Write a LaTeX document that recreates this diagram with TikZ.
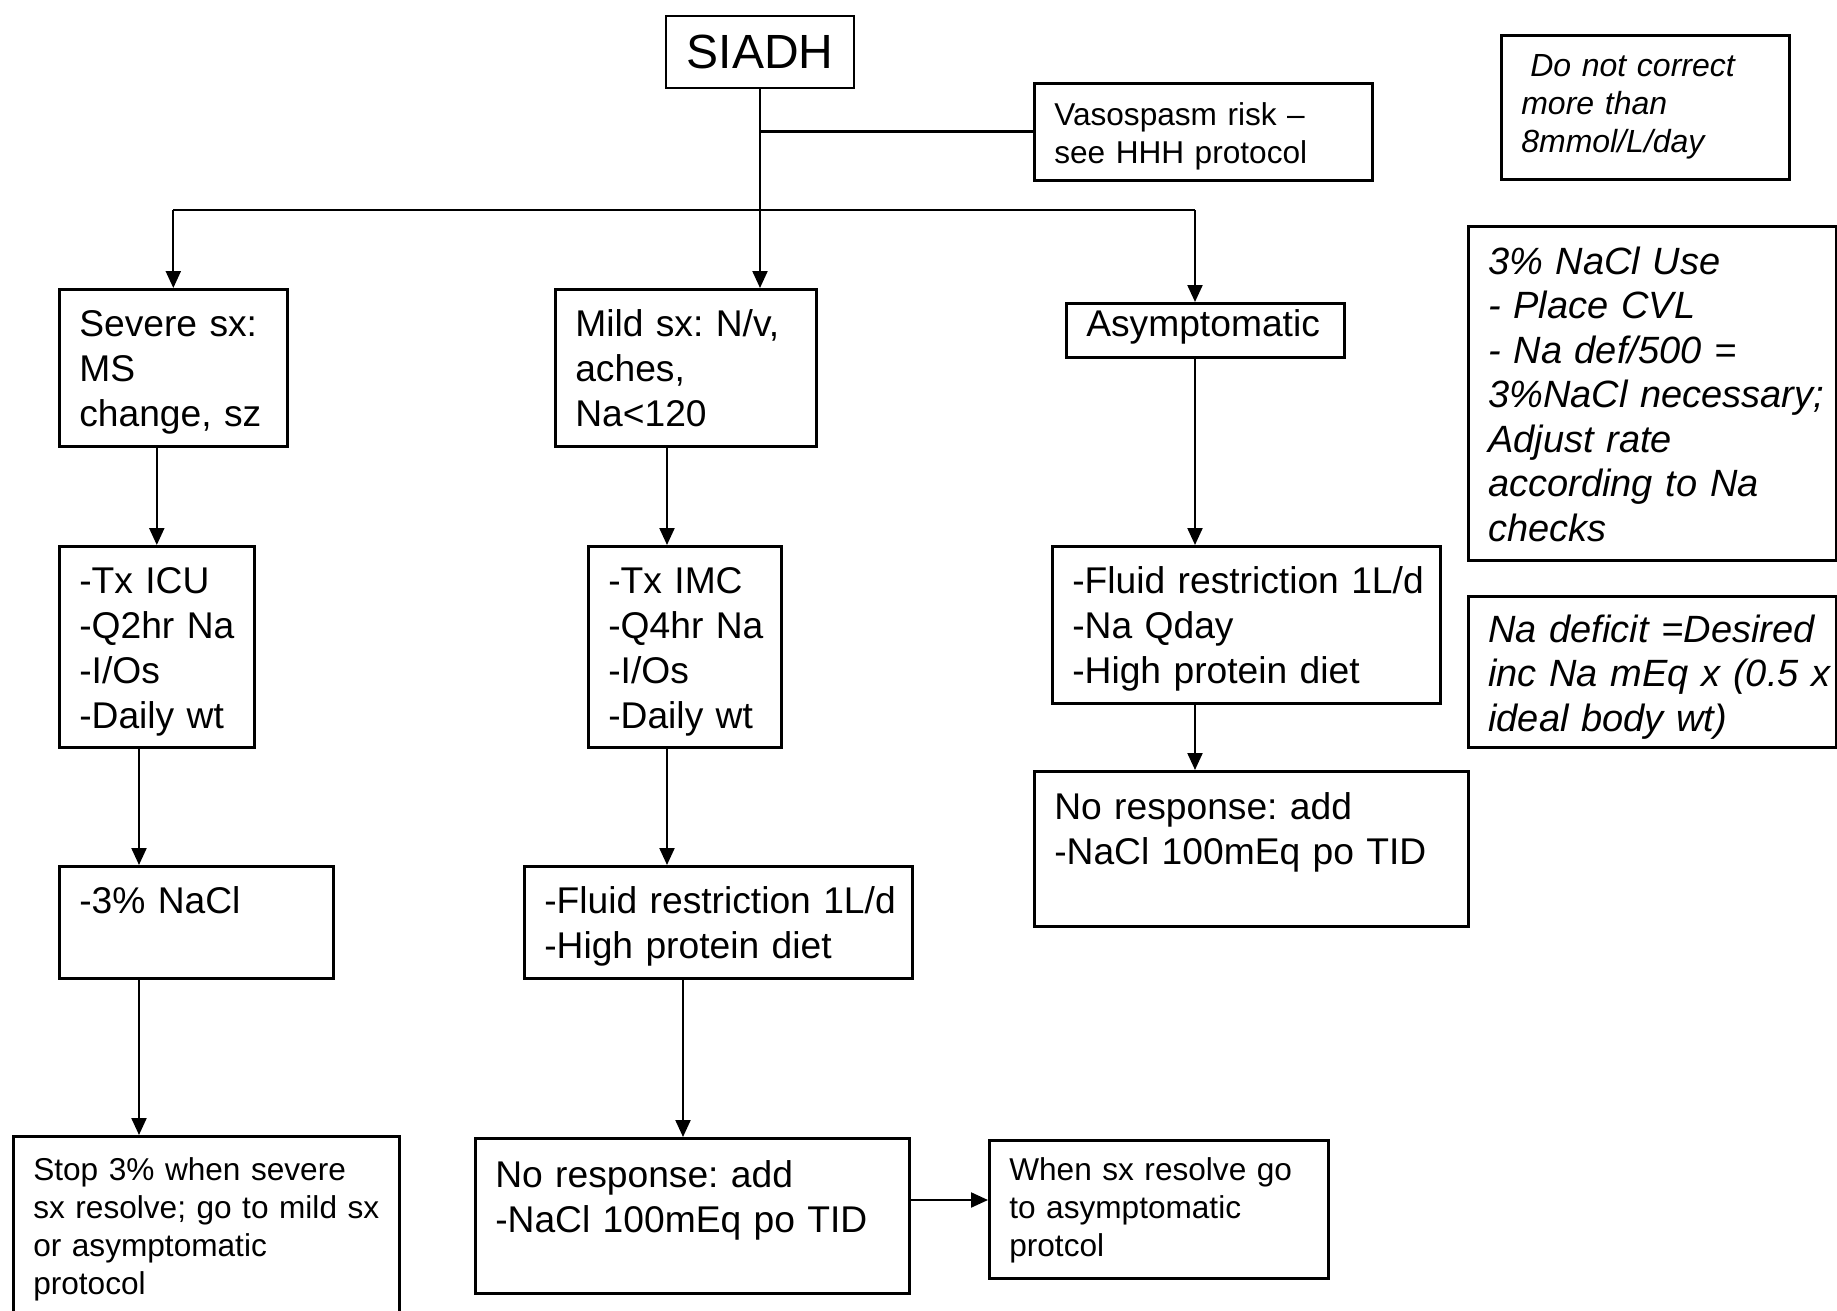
\documentclass[tikz,border=0pt]{standalone}
\usepackage{fontspec}
\setmainfont{Liberation Sans}
\usetikzlibrary{arrows.meta}
\frenchspacing
\begin{document}
\begin{tikzpicture}[x=0.5pt, y=-0.5pt,
  box/.style={draw, line width=1.3pt, anchor=north west, inner sep=0pt, align=left, font=\fontsize{18.6}{22.5}\selectfont, execute at begin node={\leftskip=10pt}},
  smalltxt/.style={font=\fontsize{15.8}{19}\selectfont},
  note/.style={font=\fontsize{19}{22.25}\selectfont\itshape},
  arr/.style={-{Triangle[length=8.5pt,width=7.5pt]}, line width=1.1pt}]
  \useasboundingbox (0,0) rectangle (1837,1311);

  \node[draw, line width=1.3pt, minimum width=94pt, minimum height=36pt, inner sep=0pt, font=\fontsize{24}{28}\selectfont] (siadh) at (760,52) {SIADH};
  \node[box, smalltxt, text width=169pt, text height=21.3pt, text depth=27.2pt] (vaso) at (1033,82) {Vasospasm risk –\\see HHH protocol};

  \node[box, font=\fontsize{16}{19}\selectfont\itshape, text width=144pt, text height=20.7pt, text depth=51.3pt] (dnc) at (1500,34) {\hspace*{0.28em}Do not correct\\more than\\8mmol/L/day};
  \node[box, note, text width=184pt, text height=24pt, text depth=143pt] (nause) at (1467,225) {3\% NaCl Use\\- Place CVL\\- Na def/500 =\\3\%NaCl necessary;\\Adjust rate\\according to Na\\checks};
  \node[box, note, text width=184pt, text height=23pt, text depth=52.5pt] (nadef) at (1467,595) {Na deficit =Desired\\inc Na mEq x (0.5 x\\ideal body wt)};

  \node[box, text width=114pt, text height=23.5pt, text depth=55pt] (sev) at (58,288) {Severe sx:\\MS\\change, sz};
  \node[box, text width=130.5pt, text height=23.5pt, text depth=55pt] (mild) at (554,288) {Mild sx: N/v,\\aches,\\Na<120};
  \node[box, text width=139pt, text height=16.5pt, text depth=10.5pt] (asym) at (1065,302) {Asymptomatic};

  \node[box, text width=97.5pt, text height=23.5pt, text depth=77pt] (icu) at (58,545) {-Tx ICU\\-Q2hr Na\\-I/Os\\-Daily wt};
  \node[box, text width=96.5pt, text height=23.5pt, text depth=77pt] (imc) at (587,545) {-Tx IMC\\-Q4hr Na\\-I/Os\\-Daily wt};
  \node[box, text width=194pt, text height=23.5pt, text depth=55pt] (fluidr) at (1051,545) {-Fluid restriction 1L/d\\-Na Qday\\-High protein diet};
  \node[box, text width=217pt, text height=24pt, text depth=53.5pt] (nrright) at (1033,770) {No response: add\\-NaCl 100mEq po TID};

  \node[box, text width=137pt, text height=23.5pt, text depth=32.5pt] (nacl) at (58,865) {-3\% NaCl};
  \node[box, text width=194pt, text height=23.5pt, text depth=32.5pt] (fluidm) at (523,865) {-Fluid restriction 1L/d\\-High protein diet};

  \node[box, smalltxt, text width=193pt, text height=22pt, text depth=75.5pt] (stop) at (12,1135) {Stop 3\% when severe\\sx resolve; go to mild sx\\or asymptomatic\\protocol};
  \node[box, text width=217pt, text height=24.5pt, text depth=53pt] (nrmid) at (474,1137) {No response: add\\-NaCl 100mEq po TID};
  \node[box, smalltxt, text width=169.5pt, text height=20pt, text depth=49pt] (when) at (988,1139) {When sx resolve go\\to asymptomatic\\protcol};

  \coordinate (rt) at (1195,210);
  \coordinate (lc) at (139,0);
  \coordinate (mc) at (667,0);
  \coordinate (nc) at (683,0);
  \coordinate (wc) at (0,1200);

  \draw[line width=1.3pt] (vaso.west) -- (vaso.west -| siadh.south);
  \draw[line width=1.3pt] (rt -| sev.north) -- (rt);
  \begin{scope}[arr]
   \draw (siadh.south) -- (siadh.south |- mild.north);
   \draw (rt -| sev.north) -- (sev.north);
   \draw (rt) -- (rt |- asym.north);
   \draw (sev.south -| icu.north) -- (icu.north);
   \draw (icu.south -| lc) -- (nacl.north -| lc);
   \draw (nacl.south -| lc) -- (stop.north -| lc);
   \draw (mild.south -| mc) -- (imc.north -| mc);
   \draw (imc.south -| mc) -- (fluidm.north -| mc);
   \draw (fluidm.south -| nc) -- (nrmid.north -| nc);
   \draw (asym.south -| rt) -- (fluidr.north -| rt);
   \draw (fluidr.south -| rt) -- (nrright.north -| rt);
   \draw (nrmid.east |- wc) -- (when.west |- wc);
  \end{scope}
\end{tikzpicture}
\end{document}
